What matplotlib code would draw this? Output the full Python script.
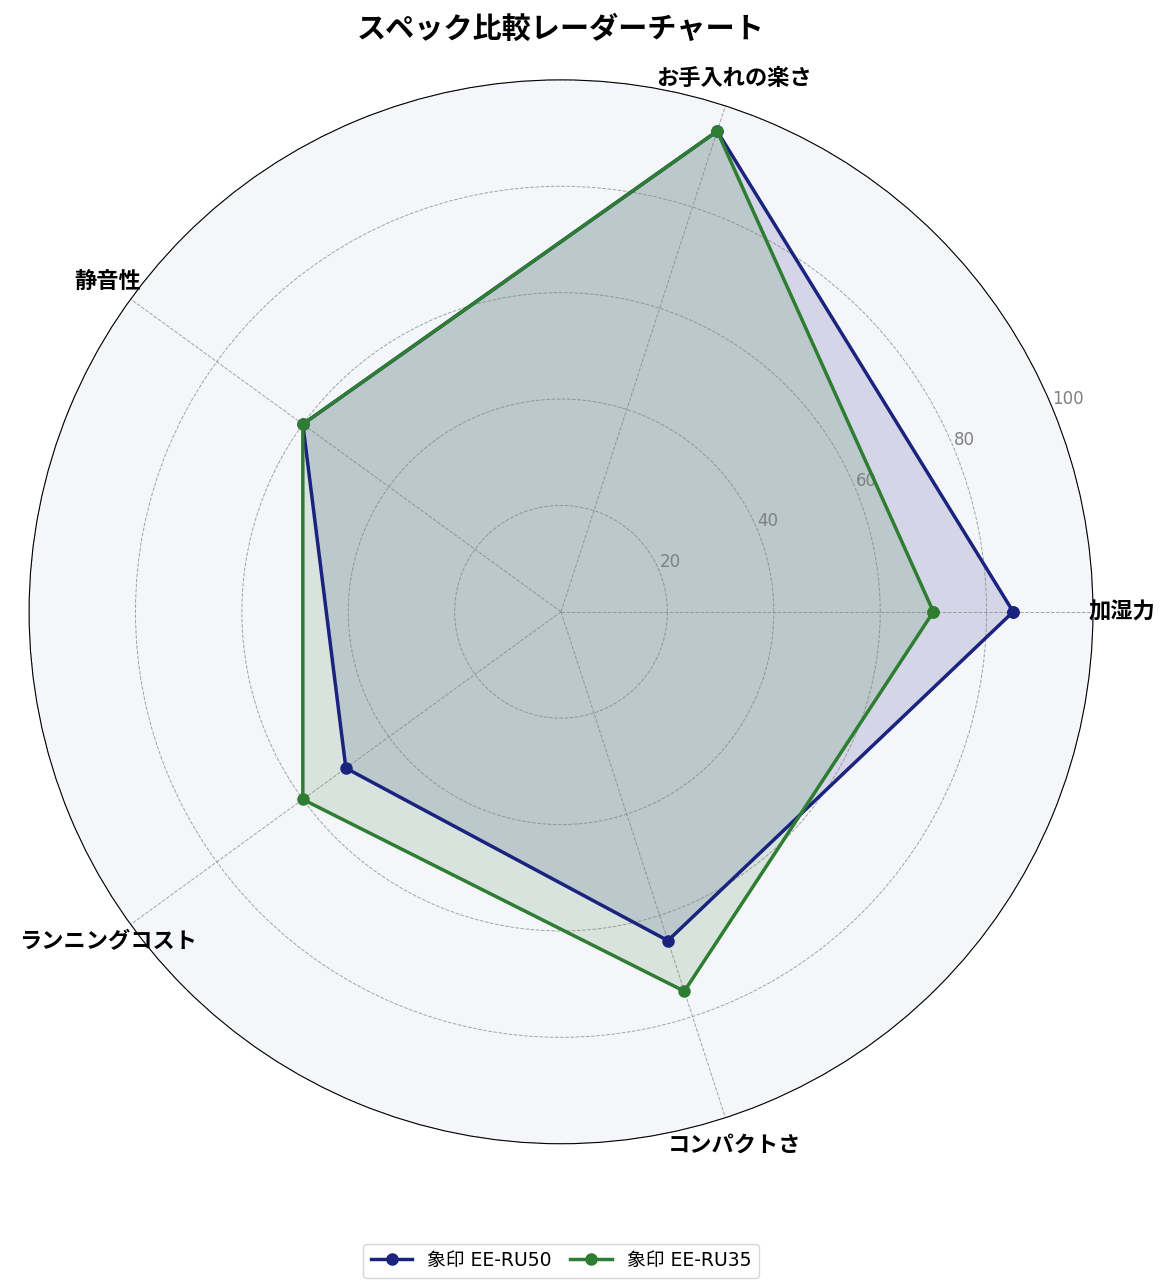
import numpy as np
import matplotlib
matplotlib.use("Agg")
import matplotlib.pyplot as plt

plt.rcParams['font.family'] = ['Noto Sans CJK JP', 'DejaVu Sans']

# Data
categories = ["加湿力", "お手入れの楽さ", "静音性", "ランニングコスト", "コンパクトさ"]
ru50_values = [85, 95, 60, 50, 65]
ru35_values = [70, 95, 60, 60, 75]
series_names = ["象印 EE-RU50", "象印 EE-RU35"]
r_ticks = [20, 40, 60, 80, 100]

colors = ["#1a237e", "#2e7d32"]

angles = np.linspace(0, 2 * np.pi, len(categories), endpoint=False).tolist()
angles_closed = angles + angles[:1]

fig = plt.figure(figsize=(11.72, 12.88), dpi=100)
ax = fig.add_axes([0.0247, 0.112, 0.908, 0.826], polar=True)
ax.set_facecolor("#f5f6fa")

for name, vals, col in zip(series_names, [ru50_values, ru35_values], colors):
    v = vals + vals[:1]
    ax.plot(angles_closed, v, color=col, linewidth=2.5, marker="o", markersize=8, label=name)
    ax.fill(angles_closed, v, color=col, alpha=0.15)

ax.set_ylim(0, 100)
ax.set_yticks(r_ticks)
ax.set_yticklabels([str(t) for t in r_ticks], color="gray", fontsize=12,
                   family=['DejaVu Sans', 'Noto Sans CJK JP'])
ax.set_xticks(angles)
ax.set_xticklabels(categories, fontsize=16, fontweight="bold")
ax.tick_params(axis="x", pad=10)
ax.grid(color="gray", linestyle="--", linewidth=0.7, alpha=0.7)

ax.set_title("スペック比較レーダーチャート", fontsize=21, fontweight="bold", pad=30)
ax.legend(loc="upper center", bbox_to_anchor=(0.5, -0.085), ncol=2,
          prop={'size': 13.5, 'family': ['DejaVu Sans', 'Noto Sans CJK JP']},
          handlelength=2.2, columnspacing=1.0)

fig.savefig("out.png", dpi=100)
